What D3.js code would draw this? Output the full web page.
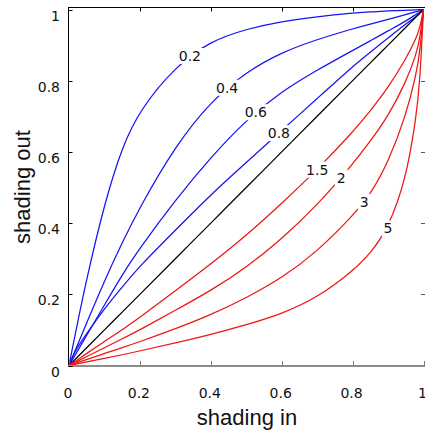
<!DOCTYPE html>
<html>
<head>
<meta charset="utf-8">
<script src="https://cdnjs.cloudflare.com/ajax/libs/d3/7.8.5/d3.min.js"></script>
<style>
    body { margin: 0; background: #fff; }
    svg { display: block; }
</style>
</head>
<body>
<div id="chart"></div>
<script>
// values
var shadingIn = [0, 0.01, 0.02, 0.05, 0.1, 0.15, 0.2, 0.3, 0.4, 0.5, 0.6, 0.7, 0.8, 0.85, 0.9, 0.95, 0.98, 0.99, 1];

var out02 = [0, 0.05, 0.1, 0.245, 0.455, 0.615, 0.718, 0.84, 0.912, 0.945, 0.967, 0.98, 0.99, 0.993, 0.996, 0.998, 0.999, 1, 1];
var out04 = [0, 0.024, 0.048, 0.12, 0.238, 0.345, 0.445, 0.617, 0.742, 0.825, 0.88, 0.916, 0.946, 0.959, 0.972, 0.986, 0.994, 0.997, 1];
var out06 = [0, 0.017, 0.034, 0.085, 0.17, 0.255, 0.33, 0.465, 0.585, 0.69, 0.77, 0.83, 0.885, 0.912, 0.94, 0.967, 0.987, 0.993, 1];
var out08 = [0, 0.025, 0.045, 0.09, 0.16, 0.22, 0.28, 0.38, 0.48, 0.57, 0.66, 0.75, 0.84, 0.88, 0.92, 0.96, 0.98, 0.99, 1];
var out1 = [0, 0.01, 0.02, 0.05, 0.1, 0.15, 0.2, 0.3, 0.4, 0.5, 0.6, 0.7, 0.8, 0.85, 0.9, 0.95, 0.98, 0.99, 1];
var out15 = [0, 0.007, 0.013, 0.034, 0.068, 0.1, 0.135, 0.21, 0.285, 0.365, 0.455, 0.55, 0.655, 0.715, 0.78, 0.86, 0.92, 0.95, 1];
var out2 = [0, 0.005, 0.01, 0.025, 0.05, 0.075, 0.1, 0.155, 0.21, 0.275, 0.355, 0.45, 0.565, 0.63, 0.7, 0.795, 0.875, 0.92, 1];
var out3 = [0, 0.0033, 0.0067, 0.017, 0.034, 0.05, 0.067, 0.103, 0.142, 0.19, 0.245, 0.32, 0.42, 0.48, 0.57, 0.7, 0.82, 0.88, 1];
var out5 = [0, 0.002, 0.004, 0.01, 0.02, 0.03, 0.041, 0.063, 0.087, 0.114, 0.145, 0.19, 0.265, 0.314, 0.385, 0.52, 0.7, 0.8, 1];

var gammaLabels = ['0.2', '0.4', '0.6', '0.8', '1', '1.5', '2', '3', '5'];
var labelAt = [0.341, 0.446, 0.527, 0.592, null, 0.70, 0.768, 0.833, 0.90];
var tickValues = [0, 0.2, 0.4, 0.6, 0.8, 1];

var series = [out02, out04, out06, out08, out1, out15, out2, out3, out5];

var width = 425,
    height = 431;

var x = d3.scaleLinear().domain([0, 1]).range([69, 423.5]);
var y = d3.scaleLinear().domain([0, 1]).range([365.5, 9.5]);

var svg = d3.select('#chart').append('svg')
    .attr('width', width)
    .attr('height', height);

function colorOf(g) {
    var v = +g;
    if (v < 1) return '#1414f5';
    if (v > 1) return '#f01414';
    return '#000';
}

// linear lookup so the labels sit on their curve
function valueAt(ys, xv) {
    var i = d3.bisectLeft(shadingIn, xv);
    if (i <= 0) return ys[0];
    var x0 = shadingIn[i - 1], x1 = shadingIn[i];
    var t = (xv - x0) / (x1 - x0);
    return ys[i - 1] + t * (ys[i] - ys[i - 1]);
}

var line = d3.line()
    .x(function(d) { return x(d[0]); })
    .y(function(d) { return y(d[1]); })
    .curve(d3.curveBasis);

svg.append('g').selectAll('path')
    .data(series)
    .enter().append('path')
    .attr('d', function(ys) { return line(ys.map(function(v, i) { return [shadingIn[i], v]; })); })
    .attr('fill', 'none')
    .attr('stroke', function(d, i) { return colorOf(gammaLabels[i]); })
    .attr('stroke-width', 1.25);

// curve labels, with a white patch that breaks the line
var labels = svg.append('g').selectAll('g')
    .data(gammaLabels.map(function(g, i) { return {g: g, at: labelAt[i], ys: series[i]}; })
        .filter(function(d) { return d.at !== null; }))
    .enter().append('g')
    .attr('transform', function(d) { return 'translate(' + x(d.at) + ',' + y(valueAt(d.ys, d.at)) + ')'; });

labels.append('text')
    .attr('text-anchor', 'middle')
    .attr('dy', '0.36em')
    .style('font-family', '"DejaVu Sans", sans-serif')
    .style('font-size', '14px')
    .attr('fill', '#111')
    .text(function(d) { return d.g; });

labels.each(function() {
    var g = d3.select(this);
    var b = g.select('text').node().getBBox();
    g.insert('rect', 'text')
        .attr('x', b.x - 2)
        .attr('y', b.y)
        .attr('width', b.width + 4)
        .attr('height', b.height)
        .attr('fill', '#fff');
});

// frame and ticks
var axes = svg.append('g');

axes.append('line')
    .attr('x1', 68.5).attr('x2', 425)
    .attr('y1', 7.5).attr('y2', 7.5)
    .attr('stroke', '#000');

axes.append('line')
    .attr('x1', 68.5).attr('x2', 68.5)
    .attr('y1', 7).attr('y2', 366)
    .attr('stroke', '#000');

axes.append('line')
    .attr('x1', 68).attr('x2', 425)
    .attr('y1', 366).attr('y2', 366)
    .attr('stroke', '#8c8c8c')
    .attr('stroke-width', 2);

var inner = tickValues.slice(1, 5);

axes.selectAll('.ytick')
    .data(tickValues)
    .enter().append('line')
    .attr('class', 'ytick')
    .attr('x1', 68.5).attr('x2', 72.5)
    .attr('y1', function(d) { return Math.round(y(d)) + 0.5; })
    .attr('y2', function(d) { return Math.round(y(d)) + 0.5; })
    .attr('stroke', '#000');

axes.selectAll('.rtick')
    .data(inner)
    .enter().append('line')
    .attr('class', 'rtick')
    .attr('x1', 421).attr('x2', 425)
    .attr('y1', function(d) { return Math.round(y(d)) + 0.5; })
    .attr('y2', function(d) { return Math.round(y(d)) + 0.5; })
    .attr('stroke', '#555');

axes.selectAll('.ttick')
    .data(inner)
    .enter().append('line')
    .attr('class', 'ttick')
    .attr('x1', function(d) { return Math.round(x(d)) + 0.5; })
    .attr('x2', function(d) { return Math.round(x(d)) + 0.5; })
    .attr('y1', 7.5).attr('y2', 11.5)
    .attr('stroke', '#000');

axes.selectAll('.btick')
    .data(tickValues)
    .enter().append('line')
    .attr('class', 'btick')
    .attr('x1', function(d) { return Math.round(x(d)) + 0.5; })
    .attr('x2', function(d) { return Math.round(x(d)) + 0.5; })
    .attr('y1', 365).attr('y2', 361)
    .attr('stroke', '#777');

var fmt = function(d) { return d === 0 || d === 1 ? String(d) : d.toFixed(1); };

axes.selectAll('.ylabel')
    .data(tickValues)
    .enter().append('text')
    .attr('class', 'ylabel')
    .attr('x', 60)
    .attr('y', function(d) { return y(d) + 11; })
    .attr('text-anchor', 'end')
    .style('font-family', '"DejaVu Sans", sans-serif')
    .style('font-size', '14px')
    .attr('fill', '#111')
    .text(fmt);

axes.selectAll('.xlabel')
    .data(tickValues)
    .enter().append('text')
    .attr('class', 'xlabel')
    .attr('x', function(d) { return x(d) - 1; })
    .attr('y', 398)
    .attr('text-anchor', 'middle')
    .style('font-family', '"DejaVu Sans", sans-serif')
    .style('font-size', '14px')
    .attr('fill', '#111')
    .text(fmt);

svg.append('text')
    .attr('x', 247)
    .attr('y', 425)
    .attr('text-anchor', 'middle')
    .style('font-family', '"Liberation Sans", Arial, sans-serif')
    .style('font-size', '22px')
    .attr('fill', '#111')
    .text('shading in');

svg.append('text')
    .attr('transform', 'translate(30,187) rotate(-90)')
    .attr('text-anchor', 'middle')
    .style('font-family', '"Liberation Sans", Arial, sans-serif')
    .style('font-size', '22px')
    .attr('fill', '#111')
    .text('shading out');
</script>
</body>
</html>
